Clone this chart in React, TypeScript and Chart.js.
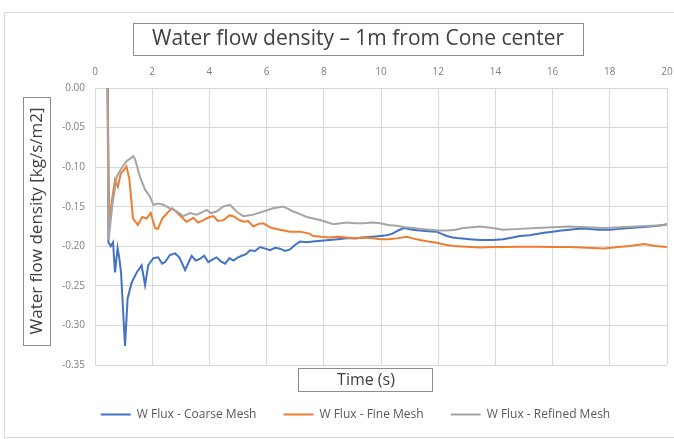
import React, { useEffect, useRef } from "react";
import { Chart, registerables } from "chart.js";

Chart.register(...registerables);

const FONT = "'Open Sans', 'Noto Sans', sans-serif";

const chartTitle = "Water flow density – 1m from Cone center";
const yAxisTitle = "Water flow density [kg/s/m2]";
const xAxisTitle = "Time (s)";
const seriesNames = ["W Flux - Coarse Mesh", "W Flux - Fine Mesh", "W Flux - Refined Mesh"];
const seriesColors = ["#4472C4", "#ED7D31", "#A5A5A5"];

const xMin = 0;
const xMax = 20;
const xStep = 2;
const yMin = -0.35;
const yMax = 0;
const yStep = 0.05;

const coarseTime = [0.45, 0.47, 0.55, 0.63, 0.7, 0.79, 0.85, 0.91, 1.05, 1.14, 1.28, 1.46, 1.63, 1.75, 1.86, 2.04, 2.21, 2.35, 2.45, 2.62, 2.8, 2.95, 3.15, 3.38, 3.52, 3.67, 3.82, 3.96, 4.1, 4.25, 4.4, 4.55, 4.7, 4.84, 5.0, 5.13, 5.28, 5.42, 5.6, 5.77, 5.95, 6.12, 6.3, 6.47, 6.65, 6.82, 7.0, 7.17, 7.4, 7.62, 7.9, 8.2, 8.5, 8.8, 9.1, 9.37, 9.7, 9.97, 10.2, 10.4, 10.6, 10.8, 11.1, 11.36, 11.65, 11.95, 12.1, 12.3, 12.5, 12.76, 13.1, 13.46, 13.9, 14.27, 14.6, 14.86, 15.2, 15.44, 15.7, 16.0, 16.3, 16.6, 16.9, 17.2, 17.6, 18.0, 18.35, 18.7, 19.05, 19.4, 19.7, 20.0];
const coarseFlux = [0.0, -0.195, -0.2, -0.195, -0.233, -0.202, -0.215, -0.233, -0.326, -0.266, -0.246, -0.233, -0.224, -0.249, -0.224, -0.215, -0.214, -0.222, -0.22, -0.211, -0.209, -0.214, -0.23, -0.212, -0.218, -0.216, -0.212, -0.22, -0.217, -0.214, -0.219, -0.222, -0.215, -0.218, -0.214, -0.212, -0.21, -0.205, -0.206, -0.201, -0.203, -0.205, -0.202, -0.203, -0.206, -0.204, -0.198, -0.194, -0.195, -0.194, -0.193, -0.192, -0.191, -0.19, -0.19, -0.189, -0.188, -0.187, -0.186, -0.184, -0.18, -0.177, -0.179, -0.18, -0.181, -0.1815, -0.184, -0.187, -0.189, -0.19, -0.191, -0.192, -0.192, -0.191, -0.189, -0.187, -0.186, -0.1845, -0.183, -0.1815, -0.18, -0.179, -0.178, -0.178, -0.179, -0.179, -0.178, -0.177, -0.176, -0.175, -0.174, -0.172];

const fineTime = [0.44, 0.5, 0.6, 0.7, 0.8, 0.9, 1.0, 1.1, 1.2, 1.33, 1.5, 1.65, 1.8, 1.95, 2.1, 2.2, 2.35, 2.55, 2.7, 2.85, 3.0, 3.2, 3.44, 3.6, 3.79, 4.0, 4.14, 4.3, 4.49, 4.7, 4.84, 5.0, 5.19, 5.35, 5.54, 5.7, 5.88, 6.18, 6.47, 6.82, 7.17, 7.5, 7.63, 7.9, 8.2, 8.5, 8.8, 9.1, 9.37, 9.7, 9.97, 10.25, 10.55, 10.9, 11.1, 11.36, 11.65, 11.95, 12.25, 12.53, 13.0, 13.46, 13.9, 14.27, 14.85, 15.44, 16.0, 16.6, 17.2, 17.8, 18.3, 18.7, 19.2, 19.6, 20.0];
const fineFlux = [0.0, -0.17, -0.14, -0.116, -0.125, -0.108, -0.104, -0.099, -0.115, -0.165, -0.173, -0.163, -0.165, -0.158, -0.177, -0.178, -0.165, -0.157, -0.152, -0.157, -0.162, -0.169, -0.164, -0.17, -0.167, -0.163, -0.162, -0.168, -0.167, -0.161, -0.162, -0.166, -0.169, -0.168, -0.175, -0.172, -0.171, -0.177, -0.179, -0.1815, -0.1815, -0.184, -0.187, -0.188, -0.189, -0.188, -0.189, -0.19, -0.189, -0.19, -0.191, -0.191, -0.19, -0.188, -0.19, -0.192, -0.194, -0.1955, -0.198, -0.1997, -0.2006, -0.2014, -0.201, -0.201, -0.2005, -0.2006, -0.201, -0.201, -0.202, -0.2027, -0.201, -0.1997, -0.197, -0.1997, -0.201];

const refinedTime = [0.43, 0.48, 0.6, 0.76, 0.93, 1.1, 1.28, 1.33, 1.4, 1.57, 1.75, 1.92, 2.04, 2.2, 2.39, 2.62, 2.86, 3.09, 3.32, 3.55, 3.75, 3.9, 4.05, 4.25, 4.49, 4.72, 4.95, 5.19, 5.35, 5.54, 5.88, 6.23, 6.58, 6.93, 7.15, 7.4, 7.87, 8.33, 8.8, 9.1, 9.38, 9.7, 9.97, 10.25, 10.55, 10.85, 11.13, 11.4, 11.7, 12.0, 12.3, 12.6, 12.88, 13.2, 13.46, 13.9, 14.27, 14.85, 15.44, 16.0, 16.6, 17.2, 17.8, 18.35, 18.9, 19.45, 20.0];
const refinedFlux = [0.0, -0.192, -0.15, -0.112, -0.101, -0.0925, -0.088, -0.086, -0.09, -0.112, -0.1285, -0.137, -0.1476, -0.146, -0.1476, -0.152, -0.156, -0.162, -0.158, -0.16, -0.157, -0.154, -0.158, -0.156, -0.1497, -0.1476, -0.156, -0.162, -0.161, -0.16, -0.156, -0.152, -0.1497, -0.156, -0.159, -0.163, -0.1667, -0.172, -0.17, -0.171, -0.171, -0.17, -0.171, -0.173, -0.174, -0.176, -0.177, -0.178, -0.179, -0.18, -0.18, -0.179, -0.177, -0.176, -0.175, -0.177, -0.179, -0.178, -0.177, -0.176, -0.175, -0.176, -0.177, -0.176, -0.175, -0.174, -0.173];

const seriesTimes = [coarseTime, fineTime, refinedTime];
const seriesValues = [coarseFlux, fineFlux, refinedFlux];

const decorPlugin = {
  id: "decor",
  beforeDraw(chart: any) {
    const { ctx, width, height } = chart;
    ctx.save();
    ctx.fillStyle = "#ffffff";
    ctx.fillRect(0, 0, width, height);
    ctx.strokeStyle = "#d9d9d9";
    ctx.lineWidth = 1;
    ctx.strokeRect(4.5, 12.5, width + 10, height - 14);
    ctx.restore();
  },
  afterDraw(chart: any) {
    const { ctx } = chart;
    ctx.save();
    ctx.strokeStyle = "#8c8c8c";
    ctx.lineWidth = 1;
    ctx.fillStyle = "#404040";
    ctx.textAlign = "center";
    ctx.textBaseline = "middle";

    // chart title
    ctx.strokeRect(133.5, 23.5, 450, 32);
    ctx.font = `21px ${FONT}`;
    ctx.fillText(chartTitle, 358, 39.5);

    // y axis title
    ctx.strokeRect(23.5, 97.5, 27, 248);
    ctx.font = `17px ${FONT}`;
    ctx.save();
    ctx.translate(37.5, 221);
    ctx.rotate(-Math.PI / 2);
    ctx.fillText(yAxisTitle, 0, 0);
    ctx.restore();

    // x axis title
    ctx.strokeRect(298.5, 368.5, 134, 23);
    ctx.font = `16px ${FONT}`;
    ctx.fillText(xAxisTitle, 366, 380);
    ctx.restore();
  },
};

export default function App() {
  const canvasRef = useRef<HTMLCanvasElement | null>(null);

  useEffect(() => {
    document.body.style.margin = "0";
    const canvas = canvasRef.current;
    if (!canvas) return;
    const datasets = seriesNames.map((name, i) => ({
      label: name,
      data: seriesTimes[i].map((t, j) => ({ x: t, y: seriesValues[i][j] })),
      borderColor: seriesColors[i],
      backgroundColor: seriesColors[i],
      borderWidth: 2,
      pointRadius: 0,
      tension: 0,
      order: seriesNames.length - i,
    }));
    const chart = new Chart(canvas, {
      type: "line",
      data: { datasets },
      plugins: [decorPlugin],
      options: {
        animation: false,
        responsive: false,
        maintainAspectRatio: false,
        layout: { padding: { top: 62, left: 44, right: 7, bottom: 8.5 } },
        scales: {
          x: {
            type: "linear",
            position: "top",
            min: xMin,
            max: xMax,
            ticks: {
              stepSize: xStep,
              color: "#808080",
              font: { family: FONT, size: 10 },
              padding: 10,
              maxRotation: 0,
            },
            grid: { color: "#d9d9d9", drawTicks: false },
            border: { color: "#d9d9d9" },
            afterFit: (s: any) => {
              s.height = 26;
              s.paddingLeft = 0;
              s.paddingRight = 0;
            },
          },
          y: {
            type: "linear",
            min: yMin,
            max: yMax,
            ticks: {
              stepSize: yStep,
              color: "#808080",
              font: { family: FONT, size: 10 },
              padding: 10,
              callback: (v: any) => (Math.abs(Number(v)) < 1e-9 ? "0.00" : Number(v).toFixed(2)),
            },
            grid: { color: "#d9d9d9", drawTicks: false },
            border: { color: "#d9d9d9" },
            afterFit: (s: any) => {
              s.width = 51;
              s.paddingTop = 0;
              s.paddingBottom = 0;
            },
          },
        },
        plugins: {
          title: { display: false },
          tooltip: { enabled: false },
          legend: {
            display: true,
            position: "bottom",
            title: {
              display: true,
              text: "",
              font: { family: FONT, size: 10, lineHeight: 1 },
              padding: { top: 0, bottom: 6.5 },
            },
            labels: {
              usePointStyle: true,
              pointStyle: "line",
              pointStyleWidth: 30,
              padding: 27,
              color: "#595959",
              font: { family: FONT, size: 12 },
              sort: (a: any, b: any) => a.datasetIndex - b.datasetIndex,
            },
          },
        },
      },
    });
    return () => chart.destroy();
  }, []);

  return (
    <div style={{ width: 674, height: 439 }}>
      <canvas ref={canvasRef} width={674} height={439} style={{ display: "block" }} />
    </div>
  );
}
